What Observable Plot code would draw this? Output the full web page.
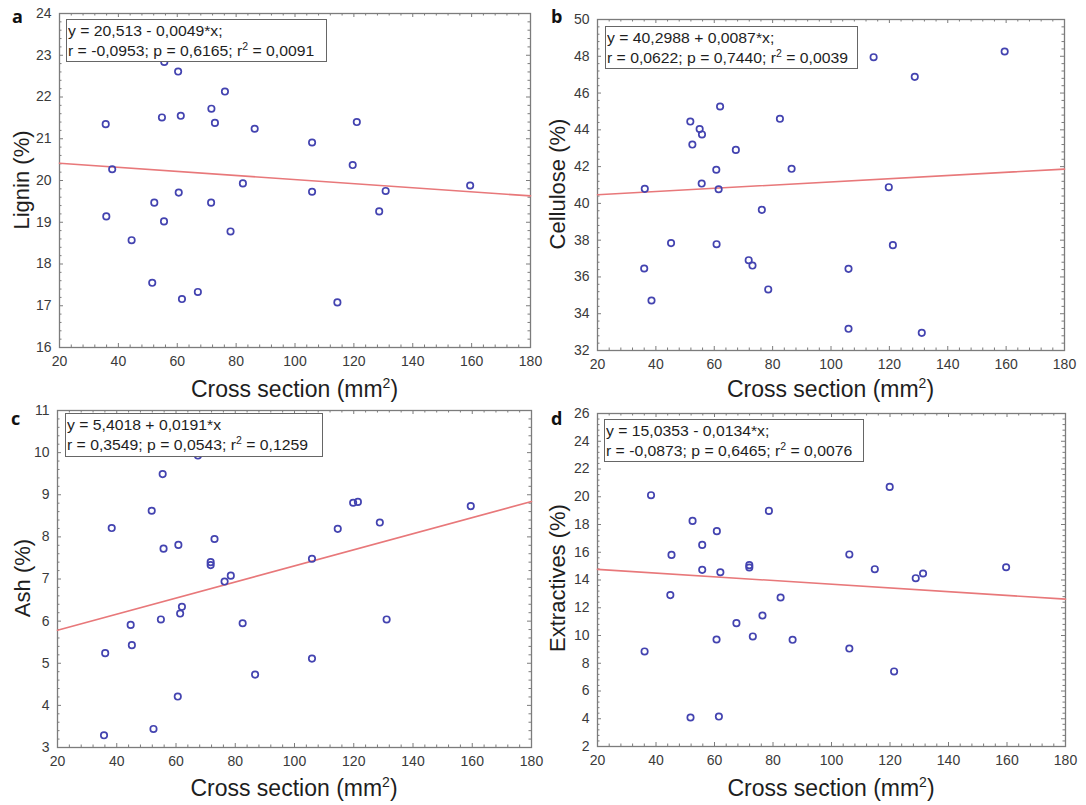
<!DOCTYPE html>
<html><head><meta charset="utf-8">
<script src="https://cdn.jsdelivr.net/npm/d3@7"></script>
<script src="https://cdn.jsdelivr.net/npm/@observablehq/plot@0.6"></script>
<style>
body{margin:0;background:#fff;}
#root{position:relative;width:1086px;height:805px;overflow:hidden;font-family:"Liberation Sans",Arial,sans-serif;}
.panel{position:absolute;}
.panel svg{overflow:visible;}
.ylab{position:absolute;transform:translate(-50%,-50%) rotate(-90deg);white-space:nowrap;font-size:22px;line-height:1;color:#1e1e1e;}
.xlab{position:absolute;transform:translateX(-50%);white-space:nowrap;font-size:23px;line-height:1;color:#1e1e1e;}
.xlab sup{font-size:14px;line-height:0;vertical-align:9px;}
.letter{position:absolute;font-family:"Open Sans",sans-serif;font-weight:700;font-size:18px;line-height:1;color:#111;}
.eq{position:absolute;border:1.5px solid #666;background:#fff;box-sizing:border-box;padding:1.3px 0 0 1px;color:#1e1e1e;overflow:hidden;}
.eq div{font-size:15px;line-height:20px;white-space:nowrap;transform:scaleX(1.05);transform-origin:left center;}
.eq sup{font-size:10px;line-height:0;vertical-align:6px;}
</style></head>
<body><div id="root"></div>
<script>
// ---------- data ----------
const xTicks = [20, 40, 60, 80, 100, 120, 140, 160, 180];
const xTitle = "Cross section (mm<sup>2</sup>)";

const panelLetters = ["a", "b", "c", "d"];
const yTitles = ["Lignin (%)", "Cellulose (%)", "Ash (%)", "Extractives (%)"];
const yTicksLignin = [16, 17, 18, 19, 20, 21, 22, 23, 24];
const yTicksCellulose = [32, 34, 36, 38, 40, 42, 44, 46, 48, 50];
const yTicksAsh = [3, 4, 5, 6, 7, 8, 9, 10, 11];
const yTicksExtractives = [2, 4, 6, 8, 10, 12, 14, 16, 18, 20, 22, 24, 26];

const xLignin = [35.7,37.9,35.9,44.5,51.5,52.2,54.8,55.5,55.6,60.3,60.5,61.2,61.6,67.0,71.5,71.6,72.8,76.2,78.1,82.3,86.3,105.8,105.8,114.4,119.6,121.0,128.6,130.8,159.5];
const lignin = [21.35,20.27,19.14,18.57,17.55,19.47,21.51,19.02,22.84,22.61,19.71,21.55,17.16,17.33,19.47,21.72,21.38,22.13,18.78,19.93,21.24,20.91,19.73,17.08,20.37,21.40,19.26,19.75,19.88];

const xCellulose = [36.2,36.0,38.5,45.2,51.8,52.5,55.0,55.8,55.7,60.7,60.8,61.5,62.0,67.4,71.8,73.1,76.3,78.5,82.5,86.5,106.0,106.0,114.6,119.8,121.2,128.7,131.1,159.5];
const cellulose = [40.79,36.46,34.72,37.84,44.45,43.20,44.04,43.75,41.08,41.83,37.78,40.77,45.27,42.91,36.91,36.62,39.65,35.32,44.60,41.88,36.44,33.18,47.95,40.88,37.73,46.88,32.96,48.26];

const xAsh = [36.1,35.7,38.3,44.7,45.1,51.8,52.4,54.9,55.5,55.8,60.6,60.8,61.4,62.0,67.4,71.7,71.7,73.0,76.4,78.5,82.5,86.7,105.9,105.9,114.6,119.8,121.4,128.8,131.1,159.5];
const ash = [5.24,3.29,8.21,5.91,5.43,8.62,3.44,6.04,9.49,7.72,4.21,7.81,6.18,6.34,9.93,7.40,7.33,7.95,6.94,7.08,5.95,4.73,7.48,5.11,8.19,8.81,8.83,8.34,6.04,8.73];

const xExtractives = [36.1,38.3,44.9,45.3,51.8,52.5,55.8,55.8,60.8,60.7,61.5,62.0,67.5,71.9,71.9,73.1,76.4,78.6,82.6,86.7,106.1,106.1,114.8,119.9,121.4,128.8,131.3,159.7];
const extractives = [8.85,20.11,12.91,15.81,4.09,18.26,16.53,14.73,17.52,9.71,4.16,14.56,10.89,15.07,14.90,9.93,11.44,18.98,12.74,9.69,15.84,9.06,14.78,20.71,7.41,14.13,14.47,14.92];

const intercepts = [20.513, 40.2988, 5.4018, 15.0353];
const slopes = [-0.0049, 0.0087, 0.0191, -0.0134];
const eqLine1 = ["y = 20,513 - 0,0049*x;", "y = 40,2988 + 0,0087*x;", "y = 5,4018 + 0,0191*x", "y = 15,0353 - 0,0134*x;"];
const eqLine2 = [
  "r = -0,0953; p = 0,6165; r<sup>2</sup> = 0,0091",
  "r = 0,0622; p = 0,7440; r<sup>2</sup> = 0,0039",
  "r = 0,3549; p = 0,0543; r<sup>2</sup> = 0,1259",
  "r = -0,0873; p = 0,6465; r<sup>2</sup> = 0,0076"
];

// ---------- layout ----------
const layout = [
  {left: 0,   top: 0,   w: 543, h: 400, m: {top: 13, right: 13, bottom: 53, left: 59},
   ylab: [22, 180], xlabTop: 378, letter: [12, 7], box: [66, 19, 261, 43]},
  {left: 543, top: 0,   w: 543, h: 400, m: {top: 19, right: 22, bottom: 50, left: 54},
   ylab: [558, 184], xlabTop: 378, letter: [551, 7], box: [605, 26, 253, 43]},
  {left: 0,   top: 400, w: 543, h: 405, m: {top: 10, right: 12, bottom: 58, left: 57},
   ylab: [23, 578], xlabTop: 777, letter: [11, 409], box: [65, 413, 258, 44]},
  {left: 543, top: 400, w: 543, h: 405, m: {top: 13, right: 21, bottom: 59, left: 54},
   ylab: [558, 578], xlabTop: 777, letter: [551, 409], box: [604, 419, 260, 43]}
];

const series = [
  {xs: xLignin, ys: lignin, yTicks: yTicksLignin},
  {xs: xCellulose, ys: cellulose, yTicks: yTicksCellulose},
  {xs: xAsh, ys: ash, yTicks: yTicksAsh},
  {xs: xExtractives, ys: extractives, yTicks: yTicksExtractives}
];

function minorTicks(major, n) {
  const out = [];
  for (let i = 0; i < major.length - 1; i++) {
    const a = major[i], b = major[i + 1];
    for (let k = 1; k < n; k++) out.push(a + (b - a) * k / n);
  }
  return out;
}

const root = document.getElementById("root");
const frameColor = "#7c7c7c";

series.forEach((s, i) => {
  const L = layout[i];
  const fw = L.w - L.m.left - L.m.right;
  const fh = L.h - L.m.top - L.m.bottom;
  const pts = s.xs.map((x, j) => ({x, y: s.ys[j]}));
  const xDom = [xTicks[0], xTicks[xTicks.length - 1]];
  const yDom = [s.yTicks[0], s.yTicks[s.yTicks.length - 1]];
  const fit = xDom.map(x => ({x, y: intercepts[i] + slopes[i] * x}));
  const xMinor = minorTicks(xTicks, 5);
  const yMinor = minorTicks(s.yTicks, 5);
  const tk = {stroke: frameColor, strokeWidth: 1};

  const chart = Plot.plot({
    width: L.w, height: L.h,
    marginTop: L.m.top, marginRight: L.m.right, marginBottom: L.m.bottom, marginLeft: L.m.left,
    style: {fontFamily: '"Liberation Sans", Arial, sans-serif', color: "#3a3a3a", background: "transparent"},
    x: {domain: xDom},
    y: {domain: yDom},
    marks: [
      Plot.tickX(xTicks, {x: d => d, insetTop: fh - 4, ...tk}),
      Plot.tickX(xTicks, {x: d => d, insetBottom: fh - 4, ...tk}),
      Plot.tickX(xMinor, {x: d => d, insetTop: fh - 2.5, ...tk}),
      Plot.tickX(xMinor, {x: d => d, insetBottom: fh - 2.5, ...tk}),
      Plot.tickY(s.yTicks, {y: d => d, insetRight: fw - 4, ...tk}),
      Plot.tickY(s.yTicks, {y: d => d, insetLeft: fw - 4, ...tk}),
      Plot.tickY(yMinor, {y: d => d, insetRight: fw - 2.5, ...tk}),
      Plot.tickY(yMinor, {y: d => d, insetLeft: fw - 2.5, ...tk}),
      Plot.frame({stroke: frameColor, strokeWidth: 1.3}),
      Plot.axisX(xTicks, {tickSize: 0, tickPadding: 9, fontSize: 14, label: null}),
      Plot.axisY(s.yTicks, {tickSize: 0, tickPadding: 8, fontSize: 14, label: null}),
      Plot.line(fit, {x: "x", y: "y", stroke: "#e8787a", strokeWidth: 1.6}),
      Plot.dot(pts, {x: "x", y: "y", r: 3.2, stroke: "#4343b0", strokeWidth: 1.7, fill: "none"})
    ]
  });
  const div = document.createElement("div");
  div.className = "panel";
  div.style.left = L.left + "px";
  div.style.top = L.top + "px";
  div.appendChild(chart);
  root.appendChild(div);

  const yl = document.createElement("div");
  yl.className = "ylab";
  yl.style.left = L.ylab[0] + "px";
  yl.style.top = L.ylab[1] + "px";
  yl.textContent = yTitles[i];
  root.appendChild(yl);

  const xl = document.createElement("div");
  xl.className = "xlab";
  xl.style.left = (L.left + L.m.left + fw / 2) + "px";
  xl.style.top = L.xlabTop + "px";
  xl.innerHTML = xTitle;
  root.appendChild(xl);

  const lt = document.createElement("div");
  lt.className = "letter";
  lt.style.left = L.letter[0] + "px";
  lt.style.top = L.letter[1] + "px";
  lt.textContent = panelLetters[i];
  root.appendChild(lt);

  const bx = document.createElement("div");
  bx.className = "eq";
  bx.style.left = L.box[0] + "px";
  bx.style.top = L.box[1] + "px";
  bx.style.width = L.box[2] + "px";
  bx.style.height = L.box[3] + "px";
  bx.innerHTML = `<div>${eqLine1[i]}</div><div>${eqLine2[i]}</div>`;
  root.appendChild(bx);
});
</script>
</body></html>
